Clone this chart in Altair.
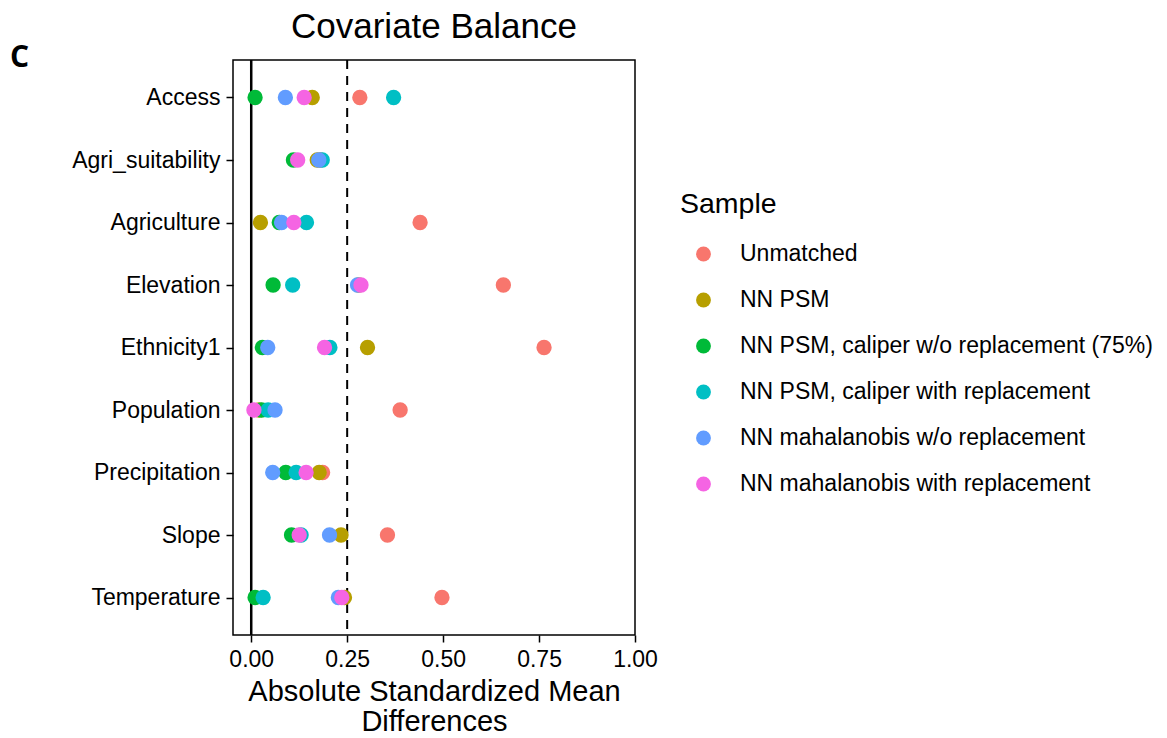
import altair as alt
import pandas as pd

# Covariates (top to bottom) and matching samples (legend order = drawing order)
covariates = ["Access", "Agri_suitability", "Agriculture", "Elevation", "Ethnicity1",
              "Population", "Precipitation", "Slope", "Temperature"]
samples = ["Unmatched", "NN PSM", "NN PSM, caliper w/o replacement (75%)",
           "NN PSM, caliper with replacement", "NN mahalanobis w/o replacement",
           "NN mahalanobis with replacement"]
palette = ["#F8766D", "#B79F00", "#00BA38", "#00BFC4", "#619CFF", "#F564E3"]

# Absolute standardized mean differences, one list per sample (covariate order)
unmatched        = [0.283, 0.180, 0.440, 0.657, 0.763, 0.388, 0.186, 0.355, 0.497]
nn_psm           = [0.159, 0.172, 0.024, 0.280, 0.303, 0.020, 0.177, 0.234, 0.243]
psm_caliper_wo   = [0.010, 0.110, 0.073, 0.057, 0.029, 0.027, 0.090, 0.105, 0.010]
psm_caliper_with = [0.371, 0.185, 0.144, 0.108, 0.205, 0.044, 0.117, 0.130, 0.031]
maha_wo          = [0.089, 0.176, 0.079, 0.277, 0.043, 0.062, 0.056, 0.204, 0.227]
maha_with        = [0.138, 0.121, 0.111, 0.286, 0.191, 0.007, 0.143, 0.125, 0.236]

series = [unmatched, nn_psm, psm_caliper_wo, psm_caliper_with, maha_wo, maha_with]
x_ticks = [0.0, 0.25, 0.5, 0.75, 1.0]
threshold = 0.25

rows = []
for name, vals in zip(samples, series):
    for cov, v in zip(covariates, vals):
        rows.append({"Covariate": cov, "Sample": name, "value": v})
df = pd.DataFrame(rows)

FONT = "Liberation Sans"
PLOT_W, PLOT_H = 402, 575

x_scale = alt.Scale(domain=[-0.0475, 1.0], nice=False, zero=False)

zero_line = alt.Chart(pd.DataFrame({"v": [0.0]})).mark_rule(
    color="black", strokeWidth=2.5
).encode(x=alt.X("v:Q", scale=x_scale))

thr_line = alt.Chart(pd.DataFrame({"v": [threshold]})).mark_rule(
    color="black", strokeWidth=2, strokeDash=[9, 7]
).encode(x=alt.X("v:Q", scale=x_scale))

points = alt.Chart(df).mark_circle(size=235, opacity=1).encode(
    x=alt.X(
        "value:Q",
        scale=x_scale,
        axis=alt.Axis(
            values=x_ticks, format=".2f",
            title=["Absolute Standardized Mean", "Differences"],
            labelFlush=False,
        ),
    ),
    y=alt.Y(
        "Covariate:N",
        sort=covariates,
        scale=alt.Scale(type="point", padding=0.6),
        axis=alt.Axis(title=None),
    ),
    color=alt.Color(
        "Sample:N",
        sort=samples,
        scale=alt.Scale(domain=samples, range=palette),
        legend=alt.Legend(
            title="Sample",
            orient="none",
            legendX=447,
            legendY=130,
            padding=0,
            symbolType="circle",
            symbolSize=220,
            symbolStrokeWidth=0,
            symbolOffset=12,
            labelOffset=25,
            rowPadding=22,
            titlePadding=24,
            titleFontSize=28.5,
            titleFontWeight="normal",
            titleFont=FONT,
            labelFont=FONT,
            labelFontSize=23,
            labelColor="black",
            titleColor="black",
            labelLimit=600,
        ),
    ),
    order=alt.Order("order:Q"),
).transform_calculate(order="indexof(" + str(samples) + ", datum.Sample)")

panel_tag = alt.Chart(pd.DataFrame({"t": ["C"]})).mark_text(
    font="Open Sans", fontSize=30, fontWeight="bold", align="left",
    baseline="alphabetic", color="black"
).encode(text="t:N", x=alt.value(-223), y=alt.value(7))

chart = alt.layer(zero_line, thr_line, points, panel_tag).properties(
    width=PLOT_W,
    height=PLOT_H,
    background="white",
    title=alt.TitleParams(
        "Covariate Balance", font=FONT, fontSize=35, fontWeight="normal",
        anchor="middle", frame="group", offset=-2, color="black",
    ),
    autosize=alt.AutoSizeParams(type="none"),
    padding={"left": 233, "top": 60, "right": 532, "bottom": 103},
).configure_view(
    stroke="black", strokeWidth=1.5
).configure_axis(
    domain=False, grid=False,
    tickColor="black", tickWidth=1.5, tickSize=7,
    labelFont=FONT, labelFontSize=23, labelColor="black", labelPadding=6,
    titleFont=FONT, titleFontSize=29, titleFontWeight="normal", titleColor="black",
    titleLineHeight=30, titlePadding=6,
)

chart.save("out.html", embed_options={"renderer": "svg", "actions": False})
